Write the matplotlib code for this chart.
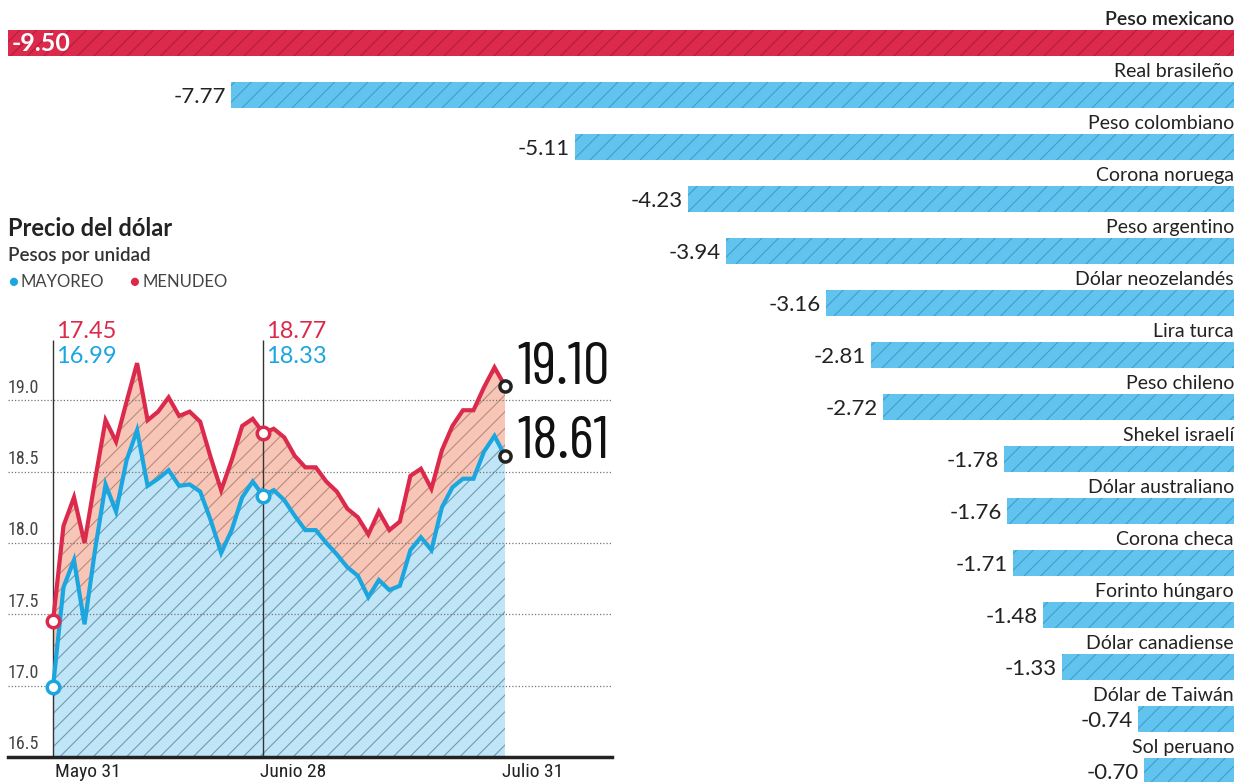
import numpy as np
import matplotlib
matplotlib.use("Agg")
import matplotlib.pyplot as plt
from matplotlib.transforms import blended_transform_factory

plt.rcParams['font.family'] = ['Lato', 'DejaVu Sans']
plt.rcParams['hatch.linewidth'] = 0.8

# --- depreciation vs dollar (%) ---
monedas = ['Peso mexicano', 'Real brasileño', 'Peso colombiano', 'Corona noruega',
           'Peso argentino', 'Dólar neozelandés', 'Lira turca', 'Peso chileno',
           'Shekel israelí', 'Dólar australiano', 'Corona checa', 'Forinto húngaro',
           'Dólar canadiense', 'Dólar de Taiwán', 'Sol peruano']
variacion = [-9.50, -7.77, -5.11, -4.23, -3.94, -3.16, -2.81, -2.72,
             -1.78, -1.76, -1.71, -1.48, -1.33, -0.74, -0.70]

# --- dollar price, May 31 - Jul 31 (trading days) ---
menudeo = [17.45, 18.12, 18.32, 18.00, 18.44, 18.86, 18.71, 18.99, 19.26, 18.86,
           18.92, 19.02, 18.89, 18.92, 18.85, 18.60, 18.37, 18.58, 18.82, 18.87,
           18.77, 18.80, 18.74, 18.61, 18.53, 18.53, 18.43, 18.36, 18.24, 18.18,
           18.06, 18.22, 18.09, 18.15, 18.47, 18.52, 18.38, 18.65, 18.82, 18.93,
           18.93, 19.09, 19.23, 19.10]
mayoreo = [16.99, 17.69, 17.88, 17.43, 17.95, 18.41, 18.22, 18.58, 18.79, 18.40,
           18.45, 18.51, 18.40, 18.41, 18.36, 18.16, 17.93, 18.09, 18.32, 18.43,
           18.33, 18.37, 18.30, 18.19, 18.09, 18.09, 18.00, 17.92, 17.83, 17.77,
           17.62, 17.74, 17.67, 17.70, 17.95, 18.04, 17.95, 18.25, 18.39, 18.45,
           18.45, 18.64, 18.75, 18.61]
fechas = ['Mayo 31', 'Junio 28', 'Julio 31']
idx_fechas = [0, 20, 43]
yticks = [16.5, 17.0, 17.5, 18.0, 18.5, 19.0]

ROJO = '#dc2a4c'
AZUL = '#1ba6e0'
AZUL_BAR = '#62c4ee'
CONDENSADA = ['Roboto Condensed', 'DejaVu Sans']

fig = plt.figure(figsize=(12.46, 7.82), dpi=100)

# ---------- bar chart (whole figure) ----------
ax = fig.add_axes([0, 0, 1, 1])
ax.set_xlim(-9.562, 0.093)
ax.set_ylim(14.21, -0.827)
ax.axis('off')

y = np.arange(len(monedas))
colores = [ROJO] + [AZUL_BAR] * (len(monedas) - 1)
hcol = ['#b51d3b'] + ['#3f9fcc'] * (len(monedas) - 1)
for i in range(len(monedas)):
    ax.barh(y[i], variacion[i], height=0.5, color=colores[i], edgecolor=hcol[i],
            linewidth=0, hatch='//')
    ax.text(0, y[i] - 0.45, monedas[i], ha='right', va='center', fontsize=14,
            color='#222222', fontweight='semibold' if i == 0 else 'normal')
    if i == 0:
        ax.text(variacion[i] + 0.03, y[i], f'{variacion[i]:.2f}', ha='left',
                va='center', fontsize=18, color='white', fontweight='bold')
    else:
        ax.text(variacion[i] - 0.04, y[i] + 0.04, f'{variacion[i]:.2f}', ha='right',
                va='center', fontsize=16, color='#222222')

# ---------- titles ----------
fig.text(0.0065, 0.708, 'Precio del dólar', fontsize=17, fontweight='bold',
         color='#222222', va='center')
fig.text(0.0065, 0.673, 'Pesos por unidad', fontsize=13.5, fontweight='semibold',
         color='#333333', va='center')
fig.text(0.0065, 0.639, '●', fontsize=12, color=AZUL, va='center')
fig.text(0.0165, 0.639, 'MAYOREO', fontsize=12, color='#444444', va='center')
fig.text(0.104, 0.639, '●', fontsize=12, color=ROJO, va='center')
fig.text(0.1145, 0.639, 'MENUDEO', fontsize=12, color='#444444', va='center')

# ---------- line chart ----------
lx = fig.add_axes([8 / 1246, 25 / 782, 604 / 1246, 457 / 782])
lx.patch.set_alpha(0)
x = np.arange(len(menudeo))
lx.set_xlim(-4.28, 53.18)
lx.set_ylim(16.5, 16.5 + 457 / 142.7)
for s in ['top', 'left', 'right']:
    lx.spines[s].set_visible(False)
lx.spines['bottom'].set_linewidth(2.5)
lx.spines['bottom'].set_color('#222222')
lx.spines['bottom'].set_zorder(6)
lx.set_xticks([])
lx.set_yticks([])

lx.fill_between(x, 16.5, mayoreo, facecolor='#c0e5f6', edgecolor='#6f9bb0',
                linewidth=0, hatch='//', zorder=1)
lx.fill_between(x, mayoreo, menudeo, facecolor='#f7c6b7', edgecolor='#b98a7e',
                linewidth=0, hatch='//', zorder=1)

trans = blended_transform_factory(lx.transAxes, lx.transData)
for v in yticks:
    if v > 16.5:
        lx.axhline(v, color='#777777', lw=0.9, ls=(0, (1, 1.6)), zorder=2)
    lx.text(0, v + 0.025, f'{v:.1f}', transform=trans, ha='left', va='bottom',
            fontsize=13, color='#444444', family=CONDENSADA)

lx.vlines([idx_fechas[0], idx_fechas[1]], 16.5, 19.42, color='#333333', lw=1, zorder=3)

lx.plot(x, menudeo, color=ROJO, lw=3, zorder=4, solid_joinstyle='miter')
lx.plot(x, mayoreo, color=AZUL, lw=3, zorder=4, solid_joinstyle='miter')

for k in idx_fechas[:2]:
    lx.plot(k, menudeo[k], 'o', mfc='white', mec=ROJO, ms=9, mew=2.5, zorder=5)
    lx.plot(k, mayoreo[k], 'o', mfc='white', mec=AZUL, ms=9, mew=2.5, zorder=5)
    lx.text(k + 0.3, 19.48, f'{menudeo[k]:.2f}', color=ROJO, fontsize=17,
            ha='left', va='center')
    lx.text(k + 0.3, 19.31, f'{mayoreo[k]:.2f}', color=AZUL, fontsize=17,
            ha='left', va='center')

k = idx_fechas[2]
for serie, ytxt in [(menudeo, 19.22), (mayoreo, 18.70)]:
    lx.plot(k, serie[k], 'o', mfc='white', mec='#222222', ms=8, mew=2.5,
            zorder=5, clip_on=False)
    lx.text(k + 1.2, ytxt, f'{serie[k]:.2f}', color='#111111', fontsize=43,
            ha='left', va='center',
            family=['Barlow Condensed', 'DejaVu Sans'])

for k, f in zip(idx_fechas, fechas):
    lx.text(k - 0.3 + (0.5 if k == 0 else 0), 16.395, f, ha='left', va='center',
            fontsize=14, color='#222222', clip_on=False, family=CONDENSADA)

fig.savefig('out.png', dpi=100)
